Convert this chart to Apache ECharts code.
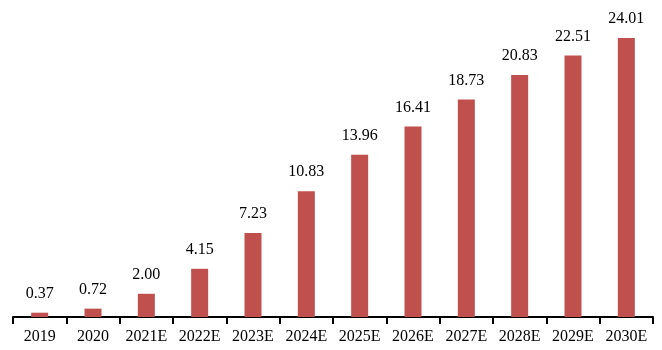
<!DOCTYPE html>
<html><head><meta charset="utf-8">
<script src="https://cdn.jsdelivr.net/npm/echarts@6/dist/echarts.min.js"></script>
<style>html,body{margin:0;padding:0;background:#fff}#c{width:662px;height:350px}</style>
</head><body><div id="c"></div>
<script>
const categories = ['2019','2020','2021E','2022E','2023E','2024E','2025E','2026E','2027E','2028E','2029E','2030E'];
const values = [0.37,0.72,2.00,4.15,7.23,10.83,13.96,16.41,18.73,20.83,22.51,24.01];
const chart = echarts.init(document.getElementById('c'));
chart.setOption({
  animation:false,
  grid:{left:13,right:9,top:15,bottom:33},
  xAxis:{type:'category',data:categories,
    axisLine:{lineStyle:{color:'#000',width:2}},
    axisTick:{show:true,length:7,interval:0,lineStyle:{color:'#000',width:2}},
    axisLabel:{color:'#000',fontFamily:'Liberation Serif',fontSize:16,margin:12,interval:0}},
  yAxis:{type:'value',min:0,max:26,show:false,splitLine:{show:false}},
  series:[{type:'bar',data:values,barWidth:17,itemStyle:{color:'#C0504D'},
    label:{show:true,position:'top',distance:11,color:'#000',fontFamily:'Liberation Serif',fontSize:16,
      formatter:p=>p.value.toFixed(2)}}]
});
</script></body></html>
